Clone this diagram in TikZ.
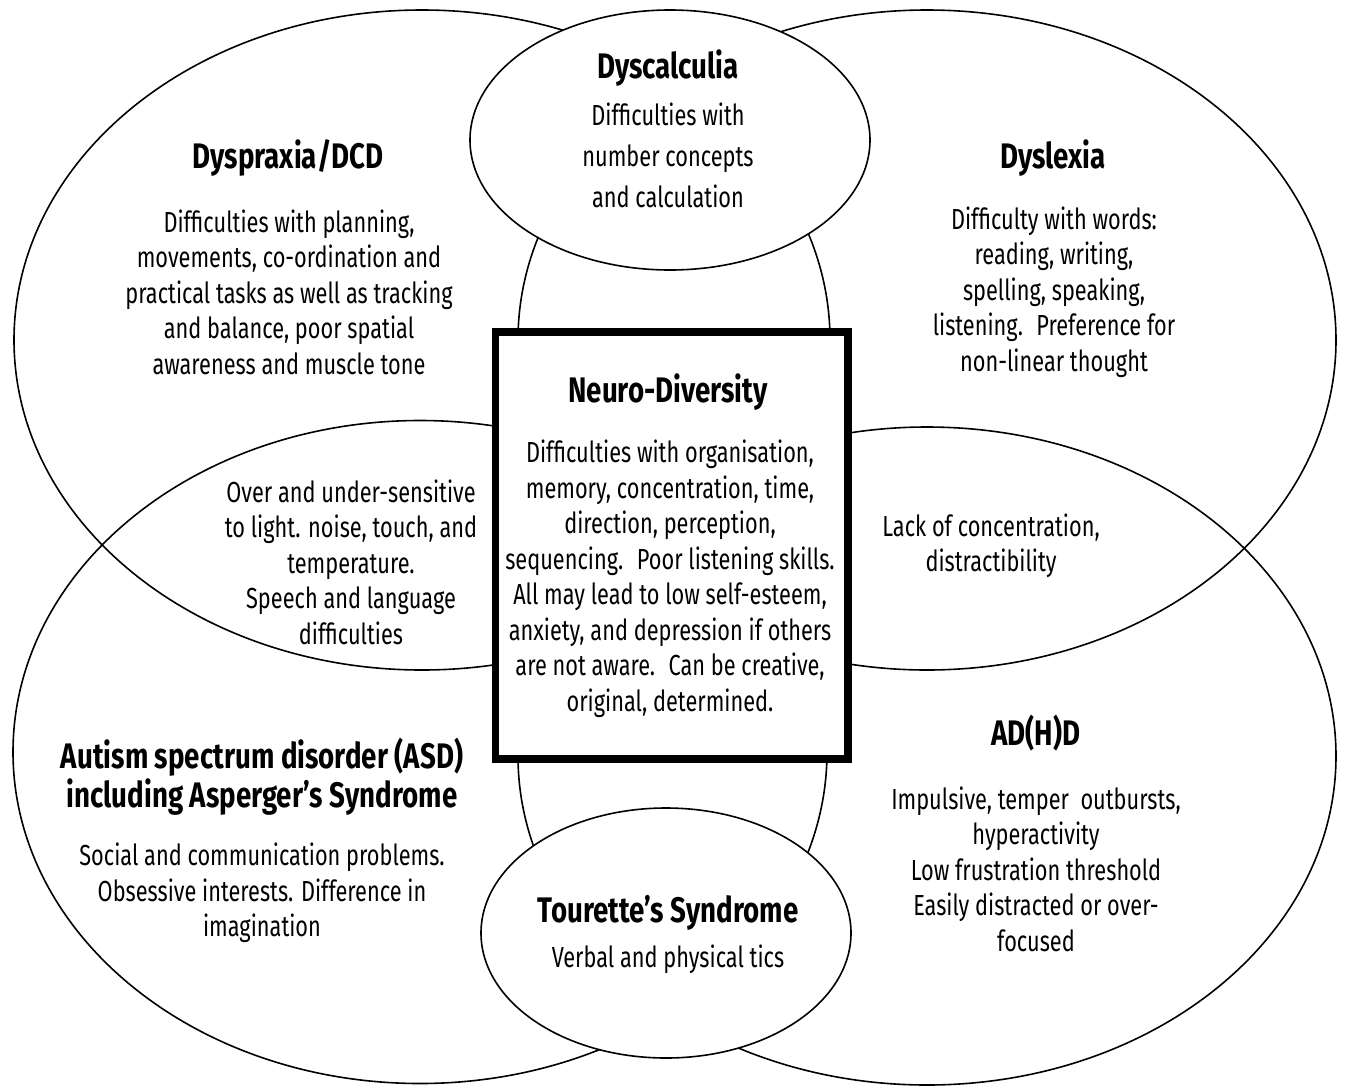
\documentclass[tikz,border=0pt]{standalone}
\usepackage{fontspec}
\setmainfont{Fira Sans}[FakeStretch=0.75]
\newfontfamily\headfont{Fira Sans}[FakeStretch=0.78]
\usetikzlibrary{shapes.geometric}
\begin{document}
\begin{tikzpicture}[x=1pt,y=-1pt,
  venn/.style={ellipse, draw=black, line width=1.6pt, inner sep=0pt},
  smallvenn/.style={venn, fill=white},
  core/.style={rectangle, draw=black, fill=white, line width=7.5pt, inner sep=0pt},
  head/.style={font=\headfont\fontsize{35.5}{39}\selectfont\bfseries, align=center, inner sep=0pt},
  body/.style={font=\fontsize{29}{35.5}\selectfont, align=center, inner sep=0pt}]
\useasboundingbox[fill=white] (0,0) rectangle (1345,1088);
% big circles
\node[venn, minimum width=816pt, minimum height=660pt] (tl) at (422,340) {};
\node[venn, minimum width=818pt, minimum height=660pt] (tr) at (927,340) {};
\node[venn, minimum width=814pt, minimum height=663pt] (bl) at (420,752) {};
\node[venn, minimum width=818pt, minimum height=658pt] (br) at (927,756) {};
% small ellipses
\node[smallvenn, minimum width=400pt, minimum height=260pt] (dysc) at (670,140) {};
\node[smallvenn, minimum width=370pt, minimum height=250pt] (tour) at (666,933) {};
% central box
\node[core, minimum width=352.5pt, minimum height=427pt] (box) at (671.75,545.5) {};
% texts
\node[head] (dyscT) at (668,68) {Dyscalculia};
\node[body, font=\fontsize{29}{41}\selectfont] (dyscB) at (668,155) {Difficulties with\\number concepts\\and calculation};
\node[head] (dyspT) at (288,158) {Dyspraxia/DCD};
\node[body] (dyspB) at (289,292) {Difficulties with planning,\\movements, co-ordination and\\practical tasks as well as tracking\\and balance, poor spatial\\awareness and muscle tone};
\node[head] (dyslT) at (1053,158) {Dyslexia};
\node[body] (dyslB) at (1054,292) {Difficulty with words:\\reading, writing,\\spelling, speaking,\\listening.~ Preference for\\non-linear thought};
\node[head] (ndT) at (668,392) {Neuro-Diversity};
\node[body] (ndB) at (670,579) {Difficulties with organisation,\\memory, concentration, time,\\direction, perception,\\sequencing.~ Poor listening skills.\\All may lead to low self-esteem,\\anxiety, and depression if others\\are not aware.~ Can be creative,\\original, determined.};
\node[body] (lensL) at (351,562) {Over and under-sensitive\\to light. noise, touch, and\\temperature.\\Speech and language\\difficulties};
\node[body] (lensR) at (991,546) {Lack of concentration,\\distractibility};
\node[head] (asdT) at (262,777) {Autism spectrum disorder (ASD)\\including Asperger’s Syndrome};
\node[body] (asdB) at (262,893) {Social and communication problems.\\Obsessive interests. Difference in\\imagination};
\node[head] (adhdT) at (1036,733) {AD(H)D};
\node[body] (adhdB) at (1036,869) {Impulsive, temper~ outbursts,\\hyperactivity\\Low frustration threshold\\Easily distracted or over-\\focused};
\node[head] (tourT) at (668,913) {Tourette’s Syndrome};
\node[body] (tourB) at (668,959) {Verbal and physical tics};
\end{tikzpicture}
\end{document}
